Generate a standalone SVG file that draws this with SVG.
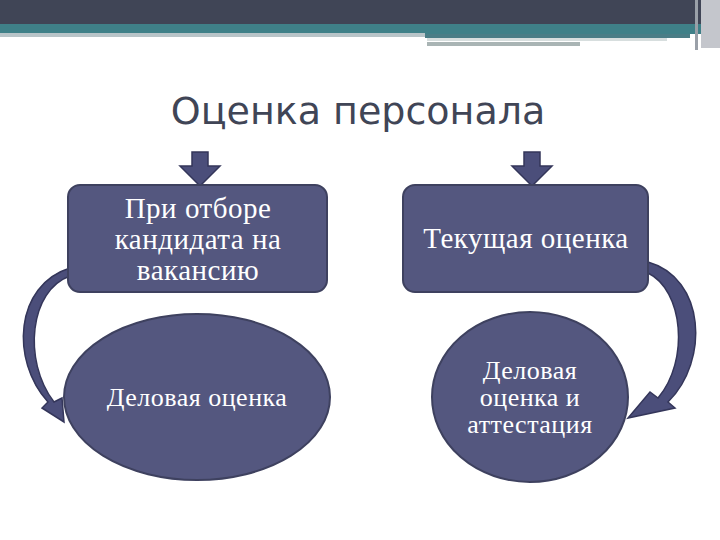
<svg xmlns="http://www.w3.org/2000/svg" width="720" height="540" viewBox="0 0 720 540">
<style>
.n{fill:#54577f;stroke:#3e415f;stroke-width:2}
.t{font-family:"Liberation Serif",serif;font-size:29px;fill:#fff;text-anchor:middle;letter-spacing:0.5px}
.s{font-size:26px}
.c{fill:#4b4e7a;stroke:#34365a;stroke-width:1.5}
</style>
<rect width="720" height="540" fill="#fff"/>
<rect x="0" y="0" width="720" height="24" fill="#404556"/>
<rect x="0" y="24" width="720" height="10" fill="#3f8088"/>
<rect x="0" y="33" width="425" height="4" fill="#b8c4c8"/>
<rect x="425" y="34" width="265" height="4" fill="#4a7d86"/>
<rect x="427" y="38" width="240" height="3" fill="#d7dede"/>
<rect x="427" y="42" width="153" height="4" fill="#a9b4b4"/>
<rect x="695" y="0" width="3" height="50" fill="#9aa0a8"/>
<rect x="701" y="0" width="19" height="48" fill="#c4c6cc"/>
<text x="358" y="124" font-family="DejaVu Sans" font-size="38" fill="#404556" text-anchor="middle">Оценка персонала</text>
<g id="connectors">
<path class="c" d="M192,152 H208 V166 H220 L200,186 L180,166 H192 Z"/>
<path class="c" d="M524,152 H540 V166 H552 L532,186 L512,166 H524 Z"/>
<path class="c" d="M70,268 C15,285 10,360 48,402 L42,408 L64,422 L62,398 L54,402 C22,360 30,290 70,276 Z"/>
<path class="c" d="M648,262 C705,278 710,360 668,402 L675,408 L628,418 L650,392 L658,398 C690,360 683,290 648,273 Z"/>
</g>
<g id="n1"><rect class="n" x="68" y="185" width="259" height="107" rx="12"/>
<text class="t" x="198" y="218">При отборе</text><text class="t" x="198" y="249">кандидата на</text><text class="t" x="198" y="280">вакансию</text></g>
<g id="n2"><rect class="n" x="403" y="185" width="245" height="107" rx="12"/>
<text class="t" x="526" y="248">Текущая оценка</text></g>
<g id="n3"><ellipse class="n" cx="197" cy="397" rx="133" ry="83"/>
<text class="t s" x="197" y="406">Деловая оценка</text></g>
<g id="n4"><ellipse class="n" cx="530" cy="397" rx="98" ry="85"/>
<text class="t s" x="530" y="379">Деловая</text><text class="t s" x="530" y="406">оценка и</text><text class="t s" x="530" y="433">аттестация</text></g>
</svg>
